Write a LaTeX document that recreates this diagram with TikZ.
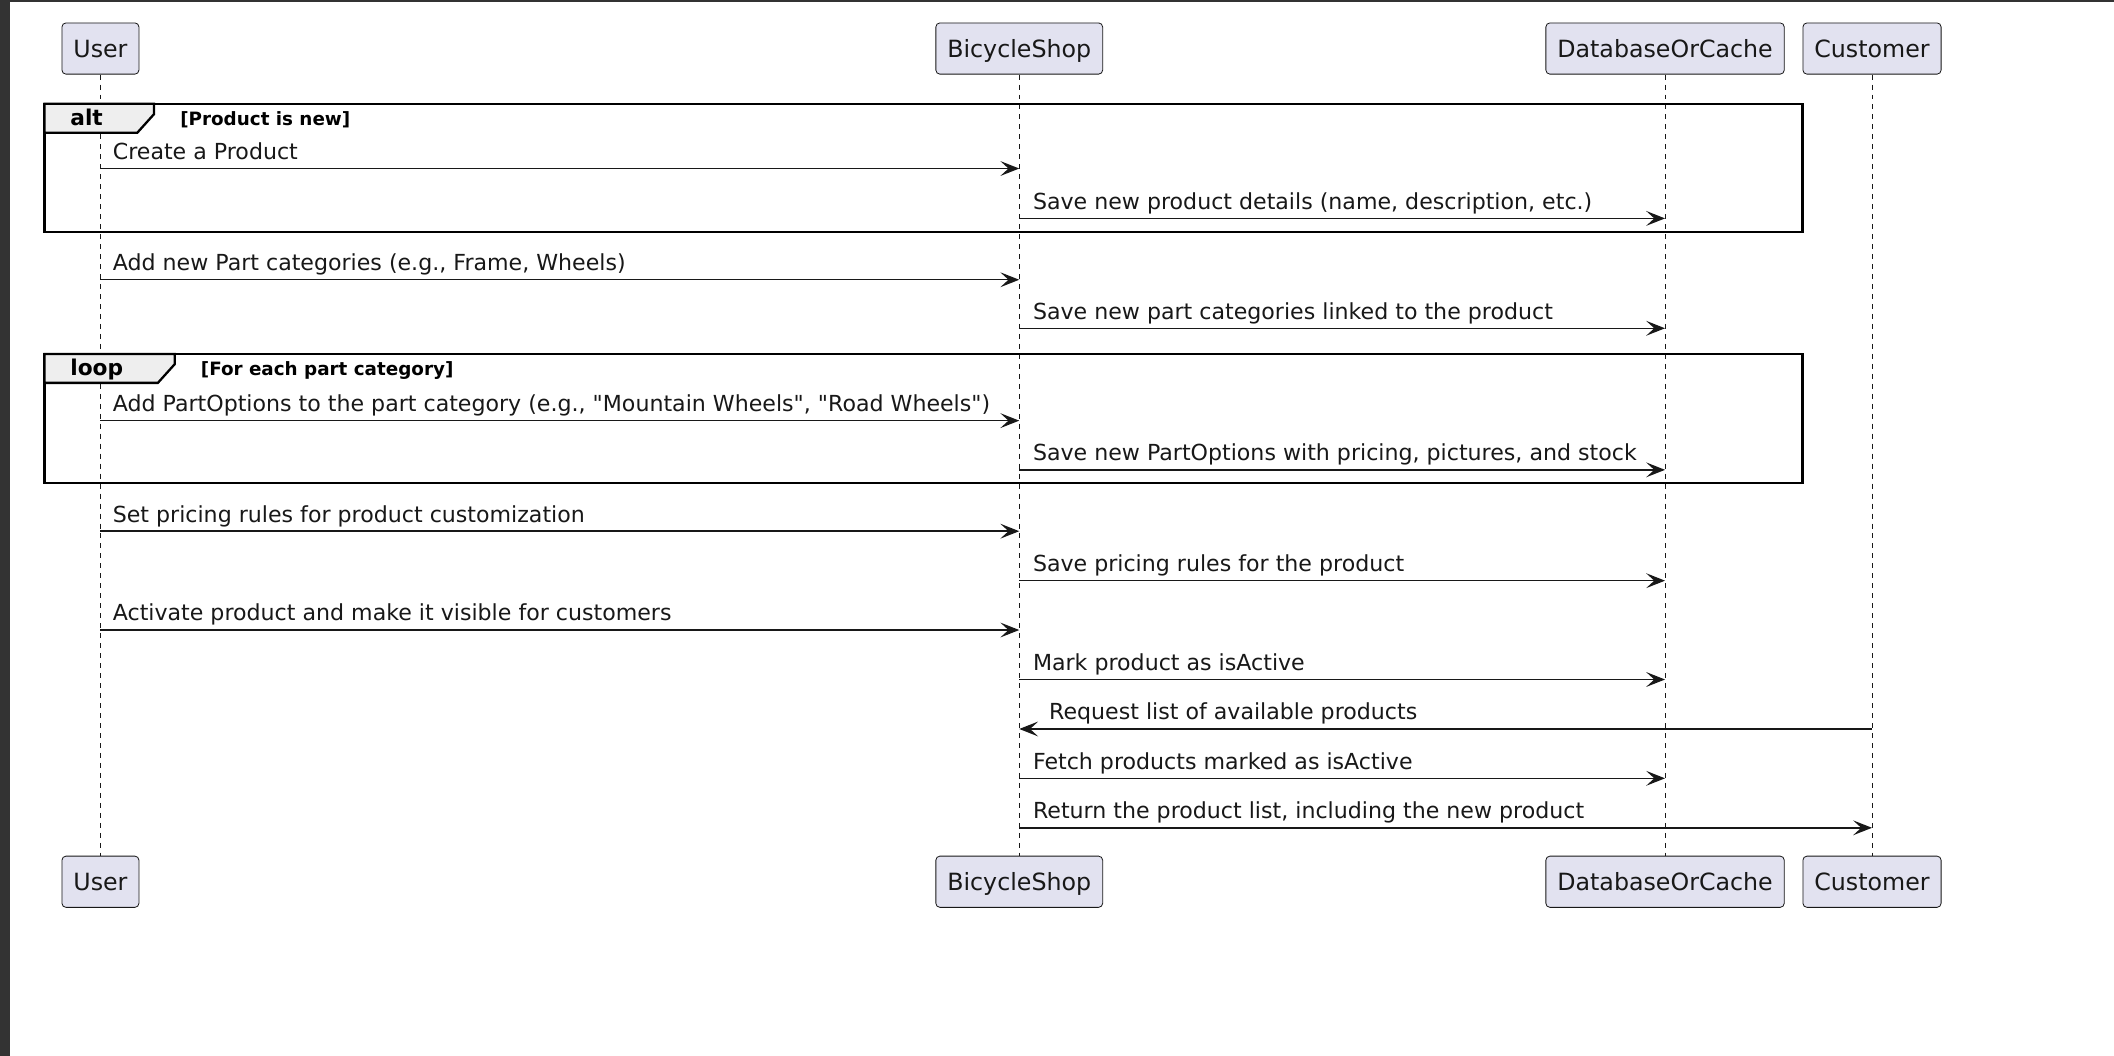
\documentclass[tikz,border=0pt]{standalone}
\usepackage{fontspec}
\setmainfont{DejaVu Sans}
\newfontfamily\dvs{DejaVu Sans}
\usetikzlibrary{arrows.meta,calc}
\definecolor{partfill}{HTML}{E2E2F0}
\definecolor{ink}{HTML}{181818}
\definecolor{tabfill}{HTML}{EEEEEE}
\definecolor{edgegray}{HTML}{333333}
\begin{document}
\begin{tikzpicture}[x=1pt,y=-1pt,
 part/.style={draw=ink, line width=0.6pt, fill=partfill, rounded corners=3pt, minimum height=38pt, inner xsep=8.5pt, inner ysep=0pt, text height=12.9pt, text depth=0.1pt, font=\dvs\fontsize{17.6}{20}\selectfont, text=ink},
 life/.style={draw=ink, line width=0.6pt, dash pattern=on 3.7pt off 3.7pt},
 msg/.style={draw=ink, line width=1.1pt, -{Stealth[length=14pt,width=11pt,inset=6pt]}},
 msgtxt/.style={anchor=base west, inner sep=0pt, font=\dvs\fontsize{16.4}{19}\selectfont, text=ink},
 grpframe/.style={draw=black, line width=1.7pt},
 grptab/.style={draw=black, line width=1.7pt, fill=tabfill},
 grptxt/.style={anchor=base west, inner sep=0pt, font=\dvs\bfseries\fontsize{16.1}{19}\selectfont},
 condtxt/.style={anchor=base west, inner sep=0pt, font=\dvs\bfseries\fontsize{13.6}{16}\selectfont}]
\useasboundingbox (0,0) rectangle (1568,783);
\fill[white] (0,0) rectangle (1568,783);
\fill[edgegray] (0,0) rectangle (7.5,783);
\fill[edgegray] (0,0) rectangle (1568,1.4);

% participants
\node[part] (uT) at (74.5,36) {User};
\node[part] (bT) at (756,36) {BicycleShop};
\node[part] (dT) at (1235,36) {DatabaseOrCache};
\node[part] (cT) at (1388.5,36) {Customer};
\node[part] (uB) at (74.5,654) {User};
\node[part] (bB) at (756,654) {BicycleShop};
\node[part] (dB) at (1235,654) {DatabaseOrCache};
\node[part] (cB) at (1388.5,654) {Customer};

% lifelines
\draw[life] (uT.south) -- (uB.north);
\draw[life] (bT.south) -- (bB.north);
\draw[life] (dT.south) -- (dB.north);
\draw[life] (cT.south) -- (cB.north);

% alt frame
\draw[grpframe] (33,77) rectangle (1337,172);
\draw[grptab] (33,77) -- (114.3,77) -- (114.3,84.6) -- (101.8,98.5) -- (33,98.5) -- cycle;
\node[grptxt] (altlbl) at (52,93.3) {alt};
\node[condtxt] (altcond) at (133.5,93.3) {[Product is new]};

% loop frame
\draw[grpframe] (33,262.5) rectangle (1337,358);
\draw[grptab] (33,262.5) -- (129.6,262.5) -- (129.6,270.1) -- (117.1,284) -- (33,284) -- cycle;
\node[grptxt] (looplbl) at (52,278.8) {loop};
\node[condtxt] (loopcond) at (148.8,278.8) {[For each part category]};

% messages
\draw[msg] (uT |- 0,125) -- (bT |- 0,125);
\node[msgtxt] (t1) at (83.5,118.3) {Create a Product};
\draw[msg] (bT |- 0,162) -- (dT |- 0,162);
\node[msgtxt] (t2) at (766,155.3) {Save new product details (name, description, etc.)};
\draw[msg] (uT |- 0,207.5) -- (bT |- 0,207.5);
\node[msgtxt] (t3) at (83.5,200.8) {Add new Part categories (e.g., Frame, Wheels)};
\draw[msg] (bT |- 0,243.5) -- (dT |- 0,243.5);
\node[msgtxt] (t4) at (766,236.8) {Save new part categories linked to the product};
\draw[msg] (uT |- 0,312) -- (bT |- 0,312);
\node[msgtxt] (t5) at (83.5,305.3) {Add PartOptions to the part category (e.g., "Mountain Wheels", "Road Wheels")};
\draw[msg] (bT |- 0,348.5) -- (dT |- 0,348.5);
\node[msgtxt] (t6) at (766,341.8) {Save new PartOptions with pricing, pictures, and stock};
\draw[msg] (uT |- 0,394) -- (bT |- 0,394);
\node[msgtxt] (t7) at (83.5,387.3) {Set pricing rules for product customization};
\draw[msg] (bT |- 0,430.7) -- (dT |- 0,430.7);
\node[msgtxt] (t8) at (766,424) {Save pricing rules for the product};
\draw[msg] (uT |- 0,467.3) -- (bT |- 0,467.3);
\node[msgtxt] (t9) at (83.5,460.6) {Activate product and make it visible for customers};
\draw[msg] (bT |- 0,504) -- (dT |- 0,504);
\node[msgtxt] (t10) at (766,497.3) {Mark product as isActive};
\draw[msg] (cT |- 0,540.7) -- (bT |- 0,540.7);
\node[msgtxt] (t11) at (778,534) {Request list of available products};
\draw[msg] (bT |- 0,577.3) -- (dT |- 0,577.3);
\node[msgtxt] (t12) at (766,570.6) {Fetch products marked as isActive};
\draw[msg] (bT |- 0,614) -- (cT |- 0,614);
\node[msgtxt] (t13) at (766,607.3) {Return the product list, including the new product};
\end{tikzpicture}
\end{document}
